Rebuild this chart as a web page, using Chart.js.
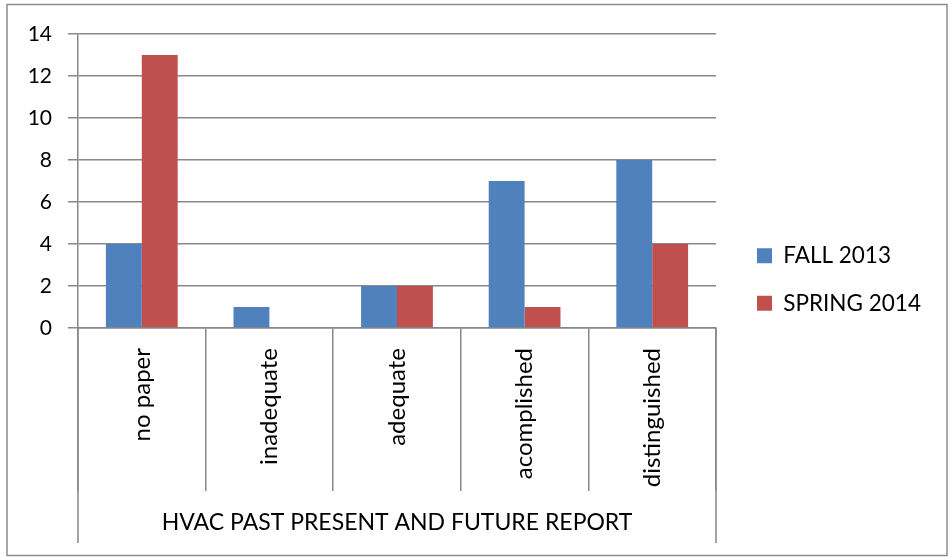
<!DOCTYPE html>
<html>
<head>
<meta charset="utf-8">
<style>
  html, body { margin: 0; padding: 0; background: #fff; }
  #wrap { width: 952px; height: 560px; position: relative; }
</style>
</head>
<body>
<div id="wrap"><canvas id="chart"></canvas></div>
<script src="https://cdn.jsdelivr.net/npm/chart.js"></script>
<script>
const categories = ["no paper", "inadequate", "adequate", "acomplished", "distinguished"];
const fall2013 = [4, 1, 2, 7, 8];
const spring2014 = [13, 0, 2, 1, 4];
const yTicks = [0, 2, 4, 6, 8, 10, 12, 14];
const groupLabel = "HVAC PAST PRESENT AND FUTURE REPORT";

const FONT = "Lato";
const GRID = "#888888";

// excel-ish frame: category separators, group box, outer border
const frame = {
    id: "frame",
    afterInit(chart) {
        const lg = chart.legend;
        const fit = lg.fit.bind(lg);
        lg.fit = function () { fit(); this.width = 236; };
    },
    afterLayout(chart) {
        const lg = chart.legend;
        lg.left += 16;
        lg.top -= 9; lg.bottom -= 9;
    },
    afterDraw(chart) {
        const ctx = chart.ctx, x = chart.scales.x;
        ctx.save();
        ctx.strokeStyle = GRID; ctx.lineWidth = 1.5;
        ctx.beginPath();
        [x.left, x.right].forEach(px => { ctx.moveTo(px, x.top); ctx.lineTo(px, x.bottom); });
        ctx.stroke();
        ctx.strokeStyle = "#8c8c8c";
        ctx.strokeRect(7, 4.5, 940, 551);
        ctx.restore();
    }
};

new Chart(document.getElementById("chart"), {
    type: "bar",
    data: {
        labels: categories,
        datasets: [
            { label: "FALL 2013", data: fall2013, backgroundColor: "#4F81BD", borderWidth: 0 },
            { label: "SPRING 2014", data: spring2014, backgroundColor: "#C0504D", borderWidth: 0 }
        ]
    },
    options: {
        responsive: true, maintainAspectRatio: false, animation: false, devicePixelRatio: 1,
        categoryPercentage: 0.5625, barPercentage: 1,
        layout: { padding: { left: 0, top: 34, right: 0, bottom: 17 } },
        plugins: {
            tooltip: { enabled: false },
            legend: {
                position: "right",
                labels: { boxWidth: 15, boxHeight: 15, padding: 25, color: "#000", font: { family: FONT, size: 22.5 } }
            }
        },
        scales: {
            x: {
                afterFit: s => { s.height = 215; },
                grid: { offset: true, drawOnChartArea: false, color: GRID, lineWidth: 1.5, tickLength: 163 },
                border: { color: GRID, width: 1.5 },
                ticks: { minRotation: 90, maxRotation: 90, padding: -143, color: "#000", font: { family: FONT, size: 24 } },
                title: { display: true, text: groupLabel, color: "#000", padding: { top: 0, bottom: 7 }, font: { family: FONT, size: 23 } }
            },
            y: {
                afterFit: s => { s.width = 78; },
                min: yTicks[0], max: yTicks[yTicks.length - 1],
                grid: { color: GRID, lineWidth: 1.5, tickLength: 10 },
                border: { color: GRID, width: 1.5 },
                ticks: { stepSize: yTicks[1] - yTicks[0], padding: 16, color: "#000", font: { family: FONT, size: 21 } }
            }
        }
    },
    plugins: [frame]
});
</script>
</body>
</html>
